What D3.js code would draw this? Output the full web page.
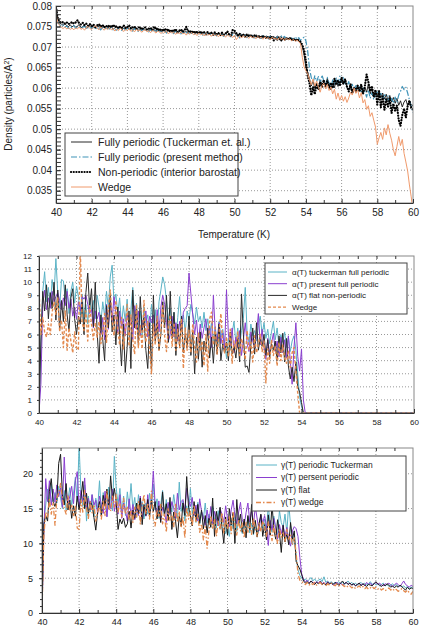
<!DOCTYPE html>
<html lang="en">
<head>
  <meta charset="UTF-8" />
  <title>Density, alpha and gamma vs temperature</title>
  <script src="https://d3js.org/d3.v7.min.js"></script>
  <style>
    body { margin: 0; background: #fff; font-family: "Liberation Sans", Arial, sans-serif; }
    svg { display: block; }
    .grid line { stroke: #999; stroke-dasharray: 1,2; }
    .axis path, .axis line { stroke: #333; }
    .axis text { fill: #222; }
  </style>
</head>
<body>
<svg width="423" height="631"></svg>
<script>
// Temperature grid: 40.0 ... 60.0 K in 0.1 K steps
const T0 = 40, DT = 0.1;

// ---- Panel 1: density (values in 1e-3 particles/A^2) ----
const densTuckerman = [
  79.5,76.8,75.9,75.6,75.3,75.7,75.2,75.0,75.4,74.9,
  75.3,74.8,75.1,75.5,74.7,75.0,75.2,74.6,74.9,75.3,
  74.8,75.2,74.5,74.9,75.1,74.6,74.8,75.0,74.4,74.9,
  74.6,75.0,74.3,74.7,74.9,74.4,74.8,74.2,74.6,74.5,
  74.9,74.3,74.6,74.1,74.7,74.4,74.0,74.5,74.2,74.6,
  74.1,74.4,73.9,74.5,74.0,74.3,73.8,74.4,74.1,73.7,
  74.2,73.9,73.6,74.3,73.8,74.0,73.5,74.1,73.7,73.9,
  73.4,74.0,73.6,73.8,73.3,73.9,73.5,73.7,73.2,73.8,
  73.4,73.6,73.1,73.7,73.3,73.5,73.0,73.6,73.2,73.4,
  72.9,73.5,73.1,73.3,72.8,73.4,73.0,73.2,72.7,73.3,
  73.6,72.9,73.2,72.6,73.1,72.8,73.0,72.5,73.1,72.7,
  72.9,72.4,73.0,72.6,72.8,72.3,72.9,72.5,72.7,72.2,
  72.8,72.4,72.6,72.1,72.7,72.3,72.5,72.0,72.4,72.2,
  71.9,72.3,71.8,72.1,71.6,71.9,71.4,71.0,70.2,68.0,
  65.0,63.8,62.3,60.5,61.8,59.9,61.2,60.0,62.0,60.6,
  61.5,60.2,62.4,60.8,59.6,61.3,60.1,62.0,60.4,61.6,
  62.3,60.9,61.8,60.2,59.5,60.8,59.2,60.3,58.9,60.6,
  59.4,60.7,58.8,60.2,59.0,61.0,58.6,59.8,57.9,59.3,
  58.1,59.5,57.6,58.8,57.3,58.5,56.9,58.2,56.6,57.7,
  56.3,57.5,55.8,56.9,55.4,56.6,57.2,55.7,56.8,55.3,
  56.0];
const densPresent = [
  79.0,76.2,75.5,75.0,75.4,74.8,75.1,74.6,75.0,74.7,
  75.2,74.6,74.9,75.0,74.5,74.8,75.1,74.4,74.7,74.9,
  74.5,74.9,74.3,74.8,74.6,74.2,74.7,74.9,74.3,74.6,
  74.4,74.8,74.2,74.5,74.1,74.6,74.3,74.0,74.5,74.2,
  74.6,74.1,74.4,73.9,74.5,74.2,73.8,74.3,74.0,74.4,
  73.9,74.2,73.7,74.3,73.8,74.1,73.6,74.2,73.9,73.5,
  74.0,73.7,73.4,74.1,73.6,73.8,73.3,73.9,73.5,73.7,
  73.2,73.8,73.4,73.6,73.1,73.7,73.3,73.5,73.0,73.6,
  73.2,73.4,72.9,73.5,73.1,73.3,72.8,73.4,73.0,73.2,
  72.7,73.3,72.9,73.1,72.6,73.2,72.8,73.0,72.5,73.1,
  72.8,72.4,73.0,72.2,72.9,72.6,72.8,72.3,72.9,72.5,
  72.7,72.2,72.8,72.4,72.6,72.1,72.7,72.3,72.5,72.0,
  72.6,72.2,72.4,71.9,72.5,72.1,72.8,72.3,72.6,72.0,
  72.4,71.8,72.2,71.7,72.5,71.9,72.3,71.6,72.1,72.4,
  71.5,69.0,64.8,62.6,61.3,63.0,61.6,62.8,61.0,63.2,
  61.8,60.5,62.6,61.2,60.1,62.0,60.7,62.5,61.0,62.9,
  61.4,62.8,61.0,60.3,61.6,59.8,60.9,59.4,60.6,59.1,
  60.3,58.8,60.0,59.2,57.8,59.6,57.5,58.9,57.2,58.3,
  59.3,57.9,59.0,57.4,58.6,56.8,58.1,55.9,57.5,56.3,
  57.8,56.5,58.3,59.2,60.4,59.6,60.2,58.8,57.1,55.6,
  54.0];
const densNonPeriodic = [
  79.8,77.0,76.2,75.9,76.1,75.7,76.0,75.6,75.8,76.1,
  75.7,76.0,76.5,75.8,75.5,75.9,75.3,75.7,75.2,75.6,
  75.1,75.5,74.9,75.3,75.6,75.0,75.4,74.8,75.2,74.9,
  75.3,74.8,75.4,74.9,75.1,74.6,75.0,74.7,75.2,74.6,
  74.9,75.3,74.5,74.8,75.0,74.4,74.7,74.9,74.3,74.6,
  74.8,74.2,74.5,74.7,74.1,75.0,74.3,74.6,74.0,74.4,
  73.9,74.5,74.0,74.3,73.7,74.2,73.8,74.4,73.6,74.0,
  74.3,73.7,74.1,74.9,73.8,74.0,73.5,73.9,73.4,73.8,
  73.3,73.8,73.4,73.6,73.1,73.7,73.2,73.5,73.0,73.6,
  73.1,73.4,72.9,73.5,73.0,73.3,73.8,73.1,72.8,74.2,
  74.0,73.4,72.8,73.2,72.6,73.0,72.5,73.1,72.7,72.9,
  72.4,72.9,72.5,72.8,72.2,72.7,72.3,72.6,72.1,72.5,
  72.0,72.6,71.6,72.2,71.8,72.4,71.5,72.1,71.7,72.2,
  71.8,72.3,71.7,72.0,71.5,71.9,71.6,71.3,70.5,69.2,
  66.5,63.0,61.2,58.2,60.3,58.5,61.0,59.6,61.5,60.2,
  62.0,60.4,61.8,59.9,61.3,60.0,62.3,60.8,61.9,60.5,
  62.6,61.0,62.2,60.4,59.2,61.0,58.7,60.1,59.3,60.6,
  59.1,60.9,58.6,60.4,63.3,61.5,59.2,60.5,57.8,59.6,
  56.0,59.2,55.3,58.0,54.7,57.3,55.5,57.6,53.9,56.2,
  54.5,55.8,52.2,50.8,53.5,55.0,52.8,55.6,57.0,55.2,
  54.8];
const densWedge = [
  78.0,76.0,75.3,74.8,74.5,74.9,74.4,74.7,74.3,74.6,
  74.2,74.7,74.4,74.9,74.3,74.6,74.1,74.8,75.0,74.5,
  74.3,74.8,75.2,74.6,74.2,74.9,74.5,74.1,74.6,74.3,
  74.7,74.2,74.5,73.9,74.4,74.0,74.6,74.2,73.8,74.3,
  74.0,74.5,73.8,74.2,73.7,74.3,73.9,74.1,73.6,74.0,
  74.2,73.7,74.0,73.5,74.1,73.8,73.4,73.9,73.6,73.3,
  73.8,73.5,73.9,73.2,73.7,73.4,73.6,73.1,73.5,73.3,
  73.7,73.2,73.4,72.9,73.5,73.1,73.6,73.0,73.3,72.8,
  73.4,73.0,73.2,72.7,73.3,72.9,73.1,72.6,73.2,72.8,
  73.0,72.5,73.1,72.7,72.9,72.4,73.0,72.6,72.8,72.3,
  72.9,71.8,72.4,72.7,72.2,72.8,72.3,72.6,72.1,72.7,
  72.3,72.5,72.0,72.6,72.2,72.4,71.9,72.5,72.1,72.3,
  71.8,72.4,72.0,72.2,71.7,72.3,71.9,72.1,71.6,72.2,
  71.8,72.0,71.5,71.9,71.4,71.7,71.3,70.8,67.5,65.2,
  64.2,63.5,62.0,60.8,62.2,60.5,61.7,60.2,59.0,60.6,
  61.2,59.8,60.9,59.4,60.3,58.6,59.7,57.3,58.8,57.0,
  58.2,56.8,57.9,56.5,57.6,59.0,58.3,60.0,58.7,59.6,
  57.6,58.9,56.4,57.2,54.8,55.7,53.1,54.0,52.2,50.5,
  46.3,47.9,49.2,47.5,50.3,48.6,51.1,49.0,47.3,45.0,
  43.5,45.8,48.2,46.0,47.5,44.1,42.0,39.8,36.4,33.5,
  30.0];
const densTicks = [0.035,0.04,0.045,0.05,0.055,0.06,0.065,0.07,0.075,0.08];
const densLabels = ["Fully periodic (Tuckerman et. al.)","Fully periodic (present method)","Non-periodic (interior barostat)","Wedge"];

// ---- Panel 2: alpha(T), 40.0 ... 54.2 K, zero afterwards ----
const alphaTuckerman = [
  0,5.2,9.3,10.8,8.5,9.6,8.1,10.2,9.0,11.8,
  9.2,8.0,10.2,10.1,8.7,9.5,7.6,9.3,10.0,8.4,
  9.7,8.9,7.5,9.1,7.0,8.3,6.8,8.8,7.9,8.6,
  7.2,9.0,8.1,6.9,8.5,7.4,9.3,8.0,10.4,11.3,
  8.4,9.1,7.6,8.8,6.7,8.2,7.0,8.7,6.5,7.9,
  9.6,7.2,8.4,6.3,7.8,5.9,8.1,6.9,7.5,6.1,
  8.3,6.6,7.9,6.0,8.5,9.4,10.4,9.8,8.6,7.1,
  8.0,6.4,7.7,5.8,7.3,8.9,6.7,7.5,6.2,7.8,
  7.1,8.3,7.6,6.8,8.1,7.0,7.4,6.5,7.7,6.3,
  7.2,6.0,6.9,5.5,6.6,5.2,7.0,5.8,6.4,5.4,
  4.2,5.7,4.8,6.1,7.0,5.3,6.5,5.0,6.3,7.2,
  9.6,6.1,5.4,6.8,5.9,6.3,5.5,6.7,7.4,6.0,
  6.9,5.7,6.4,5.3,6.2,7.0,5.6,6.5,5.1,6.0,
  5.4,6.2,5.0,5.8,4.7,5.5,5.9,4.8,3.0,1.2,
  0.5,0,0];
const alphaPresent = [
  0,2.2,8.3,9.4,7.9,8.8,8.0,9.3,8.5,8.9,
  9.2,8.6,7.9,8.8,8.2,9.3,8.0,8.7,7.4,8.1,
  7.2,8.5,7.8,8.9,8.7,9.0,8.3,7.6,7.9,6.5,
  7.8,7.2,7.7,6.0,7.3,5.6,8.3,6.4,8.7,7.0,
  8.9,7.5,6.1,7.8,6.5,7.2,5.9,7.6,6.8,7.3,
  5.6,8.2,6.4,7.8,5.9,7.1,6.6,7.8,5.8,7.4,
  6.9,7.5,5.7,7.9,6.2,8.1,9.0,8.3,6.9,5.5,
  6.0,7.4,5.8,6.9,5.5,7.0,6.3,7.7,8.0,8.2,
  10.7,9.1,7.5,6.0,7.1,5.4,6.8,5.7,6.5,7.2,
  5.9,6.6,5.0,9.0,6.2,5.5,6.9,5.3,6.1,4.8,
  9.4,6.0,5.1,6.5,4.6,5.8,5.0,6.3,4.4,5.6,
  6.9,5.3,4.7,6.2,5.5,4.9,6.0,7.6,5.2,6.4,
  5.0,4.1,5.7,4.5,5.3,6.1,4.7,5.5,4.3,5.8,
  4.6,5.6,4.2,5.9,4.0,2.2,5.0,6.9,4.3,3.2,
  4.9,1.0,0];
const alphaFlat = [
  0,5.5,9.3,7.8,9.8,7.2,9.2,8.0,10.0,7.1,
  9.4,6.3,8.6,7.0,9.8,7.5,6.3,8.8,9.5,7.2,
  6.0,7.4,6.8,8.5,6.0,9.2,10.7,8.0,9.5,6.6,
  10.0,6.2,3.8,7.5,5.6,4.0,8.2,6.5,9.0,6.2,
  7.5,5.2,8.1,6.0,3.6,6.8,3.1,5.0,7.8,3.4,
  9.4,6.5,8.0,5.2,8.9,6.3,7.3,4.8,3.4,6.9,
  3.1,9.0,5.5,7.1,4.8,6.0,8.5,6.5,9.0,5.4,
  9.3,5.7,7.7,4.4,6.8,5.1,7.4,4.6,6.1,5.0,
  7.4,4.4,6.3,3.0,5.8,4.1,6.2,3.5,5.5,4.7,
  6.5,4.2,5.8,3.8,6.1,4.5,6.8,4.0,5.3,4.6,
  5.4,4.0,6.2,4.5,5.1,4.2,5.7,3.9,9.1,6.0,
  3.5,3.6,3.1,5.2,6.5,4.5,6.9,4.8,5.8,5.1,
  6.0,4.4,5.6,4.2,5.3,4.8,5.5,4.0,5.9,4.6,
  6.1,3.9,5.7,3.6,2.6,3.5,2.4,3.9,2.0,1.6,
  0.8,0,0];
const alphaWedge = [
  9.5,6.0,7.3,6.2,5.8,6.8,6.0,7.7,8.5,7.5,
  8.8,6.3,7.1,5.0,7.8,4.8,6.5,5.5,4.6,6.2,
  5.0,4.8,12.5,7.0,6.3,7.8,5.5,8.2,6.8,5.6,
  6.9,5.8,7.0,5.3,6.1,7.6,5.4,8.0,9.4,7.1,
  5.9,8.6,6.4,5.2,7.3,4.9,6.2,8.3,5.1,7.5,
  5.6,4.5,8.3,5.0,6.7,4.9,8.6,5.4,7.0,4.8,
  3.0,6.8,5.2,7.4,4.8,6.3,8.2,5.9,4.7,6.6,
  7.5,5.1,6.9,4.8,6.4,5.0,7.2,3.4,6.5,4.8,
  6.3,4.6,6.8,5.0,3.9,6.1,4.7,5.5,3.6,6.0,
  3.2,7.2,7.7,5.2,6.5,4.5,6.1,7.6,5.3,4.6,
  5.8,4.3,6.4,3.8,5.5,4.9,6.2,4.4,5.7,5.0,
  4.1,6.3,4.8,5.4,3.9,5.9,4.6,5.2,6.0,4.7,
  5.5,2.3,4.9,3.8,5.6,4.4,5.1,3.6,5.4,4.0,
  5.2,4.2,3.8,4.8,3.5,4.6,5.0,3.2,1.5,0,
  0,0,0];
const alphaZeroEnd = 60;   // all alpha curves stay at 0 up to 60 K
const alphaLabels = ["\u03b1(T) tuckerman full periodic","\u03b1(T) present full periodic","\u03b1(T) flat non-periodic","Wedge"];

// ---- Panel 3: gamma(T) ----
const gammaTuckerman = [
  0,13.0,15.5,17.8,15.2,18.5,16.0,17.3,15.8,18.2,
  16.5,15.0,17.6,14.8,16.3,18.0,15.4,17.2,19.5,16.0,
  24.0,17.5,15.3,18.4,13.2,16.8,14.5,17.0,13.8,16.5,
  15.0,19.0,14.2,17.3,15.8,13.9,18.1,16.4,14.7,22.5,
  18.0,15.6,17.9,14.3,16.8,14.0,17.4,15.1,18.6,14.9,
  16.6,13.7,17.0,14.6,16.0,13.5,15.8,14.2,17.2,15.0,
  18.5,14.8,16.4,13.6,15.5,17.6,14.0,16.3,13.8,15.6,
  14.5,17.0,15.0,13.4,18.8,14.6,16.1,13.2,15.4,14.0,
  17.9,14.3,15.6,13.0,15.9,12.8,14.6,13.5,15.8,12.9,
  14.2,12.6,15.3,13.4,12.2,14.7,12.0,13.8,12.5,11.4,
  12.3,11.0,13.6,12.1,14.3,11.7,13.4,12.5,11.4,13.2,
  12.0,13.8,11.5,12.9,11.2,13.1,11.0,12.6,14.0,12.2,
  13.5,11.8,15.5,12.4,11.6,13.9,12.1,11.3,14.7,13.0,
  12.3,14.2,11.5,15.8,12.6,9.8,11.2,8.0,6.2,5.4,
  5.0,4.7,4.9,4.5,4.8,5.1,4.6,4.9,4.5,4.7,
  4.9,4.5,5.2,4.4,4.6,4.3,4.5,4.2,4.4,4.3,
  4.5,4.2,4.4,4.1,4.3,4.6,4.2,4.4,4.1,4.3,
  4.0,4.2,4.4,4.1,4.3,4.0,4.2,4.5,4.1,4.3,
  4.0,4.2,3.9,4.1,4.3,3.9,4.1,3.8,4.0,4.2,
  3.9,4.1,3.8,4.0,3.7,3.9,3.6,3.8,3.5,3.7,
  3.6];
const gammaPresent = [
  0,11.5,19.3,16.0,19.0,15.5,17.8,15.9,18.4,16.7,
  18.0,15.2,22.4,17.0,15.6,16.8,18.2,15.7,19.0,20.3,
  15.2,17.6,16.0,19.4,15.0,16.5,14.8,17.0,15.5,16.2,
  14.2,16.8,15.6,14.3,17.5,13.8,16.4,15.0,17.8,14.6,
  16.0,14.2,17.0,13.6,15.8,14.7,13.2,16.4,14.0,15.6,
  13.4,15.2,14.0,16.8,13.5,15.4,13.9,17.0,14.5,15.8,
  20.4,15.5,14.0,16.1,13.3,15.2,14.5,13.0,15.9,14.2,
  16.0,15.1,13.6,17.2,14.8,16.0,16.3,14.5,17.9,16.2,
  15.3,16.6,14.0,15.5,13.2,16.4,14.6,13.8,12.6,14.8,
  13.0,15.3,12.8,14.6,13.5,12.5,15.0,14.2,13.0,15.4,
  13.6,12.4,14.8,16.2,13.9,12.8,14.5,15.9,13.4,12.6,
  14.4,15.8,13.1,14.7,12.7,15.3,13.5,11.8,14.1,12.9,
  14.0,12.5,9.7,13.3,11.9,13.6,12.2,10.6,12.7,11.4,
  12.6,11.0,12.3,10.4,9.6,11.8,12.4,12.1,11.0,8.0,
  5.6,4.8,4.5,4.7,4.3,4.6,4.4,4.2,4.5,4.3,
  4.6,4.2,4.4,4.1,4.5,4.2,4.3,4.0,4.2,4.4,
  4.1,4.3,4.0,4.2,4.4,4.1,4.3,4.0,4.2,3.9,
  4.1,4.3,4.0,4.2,3.9,4.4,4.1,4.3,4.0,4.2,
  4.4,4.1,4.3,4.0,3.9,4.2,4.1,4.3,4.0,3.8,
  4.0,4.3,4.1,3.8,4.2,4.6,4.1,3.9,3.7,4.0,
  3.8];
const gammaFlat = [
  0,12.8,14.0,13.2,17.5,19.3,16.0,15.3,16.2,21.5,
  22.8,17.0,15.5,18.6,14.8,16.2,13.6,15.4,13.9,16.8,
  14.8,16.5,18.9,15.0,17.2,14.3,16.0,15.5,13.7,11.9,
  14.5,16.0,13.9,16.9,15.4,17.8,15.0,19.7,16.2,17.9,
  16.0,12.0,13.5,12.8,13.6,12.3,12.8,14.6,12.2,14.8,
  13.6,15.8,14.3,16.5,12.7,15.6,14.0,16.3,13.8,16.2,
  14.6,16.0,13.5,15.4,13.0,17.4,14.0,15.7,13.3,16.6,
  12.0,14.5,13.2,10.8,14.0,12.5,15.8,14.0,19.6,15.2,
  14.0,12.5,16.0,13.3,15.6,12.9,14.8,12.1,14.0,11.5,
  13.6,12.3,16.5,11.0,14.6,13.0,15.2,12.4,10.0,13.8,
  11.2,15.0,12.6,14.4,10.0,16.3,12.8,14.2,11.6,13.5,
  10.8,14.0,12.0,15.6,11.4,13.3,10.9,12.8,14.2,11.0,
  12.7,10.5,14.1,11.2,15.6,12.0,10.6,13.4,11.5,8.7,
  12.6,10.2,11.4,9.8,13.0,10.6,11.8,7.4,6.8,6.3,
  5.5,4.6,4.3,4.5,4.2,4.6,4.3,4.1,4.4,4.2,
  4.5,4.1,4.3,4.0,4.4,4.2,4.3,4.1,4.4,4.2,
  4.0,4.3,4.6,4.2,4.4,4.1,4.3,4.0,4.2,3.9,
  4.1,4.3,3.9,4.2,4.0,3.8,4.1,4.0,3.9,4.2,
  4.5,4.2,4.0,3.8,4.1,3.9,4.2,4.0,3.7,3.9,
  3.6,3.9,3.7,4.0,3.8,3.5,3.3,3.7,3.4,3.6,
  3.5];
const gammaWedge = [
  0,11.0,14.5,13.8,16.3,14.2,15.8,12.6,16.5,17.2,
  18.6,16.5,15.0,14.2,16.8,14.6,15.5,14.0,15.3,12.2,
  12.0,16.2,14.5,17.6,15.0,13.6,16.0,14.4,15.6,13.2,
  14.6,15.5,13.5,16.2,14.0,17.5,15.0,14.6,16.8,15.2,
  17.0,14.5,15.8,13.8,16.5,14.2,15.2,13.3,14.8,13.0,
  15.2,13.8,16.0,12.8,15.5,17.0,14.2,15.8,13.5,17.5,
  13.6,12.5,14.8,13.9,15.6,12.8,14.2,11.6,15.0,13.3,
  14.1,12.4,15.6,13.0,14.6,12.2,13.8,10.8,15.2,13.5,
  14.6,12.5,15.5,13.0,14.2,11.6,12.8,10.5,12.4,9.3,
  11.8,14.0,12.2,13.5,11.0,13.2,12.0,14.4,11.5,13.6,
  12.0,13.8,11.4,14.6,12.6,11.2,13.4,11.8,12.9,10.8,
  13.0,11.6,12.8,11.3,13.6,12.2,11.0,12.9,11.7,13.2,
  12.4,11.0,13.1,11.8,10.4,12.6,11.2,10.0,12.1,10.9,
  11.5,10.2,12.0,10.6,11.3,9.8,10.8,8.6,5.6,4.7,
  4.5,4.3,4.1,4.4,4.0,4.3,4.1,4.4,4.0,4.2,
  4.4,4.1,4.3,3.9,4.2,4.0,4.3,4.1,3.9,4.2,
  4.0,3.9,4.1,3.8,4.0,3.7,3.9,3.6,3.8,3.5,
  3.7,3.9,3.6,3.8,3.5,3.7,3.4,3.6,3.8,3.5,
  3.7,3.4,3.6,3.3,3.5,3.2,3.4,3.6,3.3,3.5,
  3.2,3.4,3.1,3.3,3.5,3.2,3.0,3.3,2.9,2.7,
  3.1];
const gammaLabels = ["\u03b3(T) periodic Tuckerman","\u03b3(T) persent periodic","\u03b3(T) flat","\u03b3(T) wedge"];

const tempTicks = [40,42,44,46,48,50,52,54,56,58,60];

// turn a value array into points on the 0.1 K grid
const toPoints = (vals, scale = 1) => vals.map((v, i) => ({ t: T0 + i * DT, v: v * scale }));

const svg = d3.select("svg");

function panel(cfg) {
  const x = d3.scaleLinear().domain([40, 60]).range([cfg.left, cfg.right]);
  const y = d3.scaleLinear().domain(cfg.ydomain).range([cfg.bottom, cfg.top]);
  const g = svg.append("g");
  const clipId = "clip" + cfg.id;

  g.append("clipPath").attr("id", clipId)
    .append("rect")
    .attr("x", cfg.left).attr("y", cfg.top)
    .attr("width", cfg.right - cfg.left).attr("height", cfg.bottom - cfg.top);

  // dotted grid
  const grid = g.append("g").attr("class", "grid");
  grid.selectAll(".gx").data(tempTicks.slice(1, -1)).enter().append("line")
    .attr("x1", d => x(d)).attr("x2", d => x(d))
    .attr("y1", cfg.top).attr("y2", cfg.bottom);
  grid.selectAll(".gy").data(cfg.yticks.filter(d => y(d) > cfg.top + 1 && y(d) < cfg.bottom - 1)).enter().append("line")
    .attr("x1", cfg.left).attr("x2", cfg.right)
    .attr("y1", d => y(d)).attr("y2", d => y(d));

  // curves
  const line = d3.line().x(d => x(d.t)).y(d => y(d.v));
  const curves = g.append("g").attr("clip-path", `url(#${clipId})`);
  cfg.series.forEach(s => {
    curves.append("path")
      .datum(s.points)
      .attr("fill", "none")
      .attr("stroke", s.color)
      .attr("stroke-width", s.width || 0.9)
      .attr("stroke-dasharray", s.dash || null)
      .attr("stroke-linecap", s.cap || "butt")
      .attr("stroke-linejoin", "round")
      .attr("d", line);
  });

  // frame
  g.append("rect")
    .attr("x", cfg.left).attr("y", cfg.top)
    .attr("width", cfg.right - cfg.left).attr("height", cfg.bottom - cfg.top)
    .attr("fill", "none").attr("stroke", "#888").attr("stroke-width", 1);

  // axes
  const ax = g.append("g").attr("class", "axis")
    .attr("transform", `translate(0,${cfg.bottom})`)
    .call(d3.axisBottom(x).tickValues(tempTicks).tickSizeInner(-4).tickSizeOuter(0).tickPadding(cfg.xpad))
    .style("font-size", cfg.font + "px");
  ax.selectAll("text").attr("font-family", "Liberation Sans, Arial, sans-serif");
  g.append("g").attr("class", "axis")
    .attr("transform", `translate(0,${cfg.bottom})`)
    .call(d3.axisBottom(x).tickValues(d3.range(41, 60, 2)).tickSizeInner(-3).tickSizeOuter(0).tickFormat(""))
    .select(".domain").remove();
  // top minor ticks
  g.append("g").attr("class", "axis")
    .attr("transform", `translate(0,${cfg.top})`)
    .call(d3.axisTop(x).tickValues(d3.range(41, 60, 1)).tickSizeInner(-3).tickSizeOuter(0).tickFormat(""))
    .select(".domain").remove();

  const ay = g.append("g").attr("class", "axis")
    .attr("transform", `translate(${cfg.left},0)`)
    .call(d3.axisLeft(y).tickValues(cfg.yticks).tickSizeInner(cfg.ytick).tickSizeOuter(0)
      .tickPadding(cfg.ypad).tickFormat(cfg.yfmt))
    .style("font-size", cfg.font + "px");
  ay.selectAll("text").attr("font-family", "Liberation Sans, Arial, sans-serif");
  g.append("g").attr("class", "axis")
    .attr("transform", `translate(${cfg.left},0)`)
    .call(d3.axisLeft(y).tickValues(cfg.yminor).tickSizeInner(cfg.ytick - 1).tickSizeOuter(0).tickFormat(""))
    .select(".domain").remove();

  // legend
  const L = cfg.legend;
  const lg = g.append("g");
  lg.append("rect")
    .attr("x", L.x).attr("y", L.y).attr("width", L.w).attr("height", L.h)
    .attr("fill", "#fff").attr("stroke", "#444").attr("stroke-width", 1);
  cfg.series.forEach((s, i) => {
    const yy = L.y + L.first + i * L.step;
    lg.append("line")
      .attr("x1", L.x + L.l0).attr("x2", L.x + L.l1)
      .attr("y1", yy).attr("y2", yy)
      .attr("stroke", s.color).attr("stroke-width", s.width || 0.9)
      .attr("stroke-dasharray", s.dash || null)
      .attr("stroke-linecap", s.cap || "butt");
    lg.append("text")
      .attr("x", L.x + L.tx).attr("y", yy)
      .attr("dy", "0.35em")
      .attr("font-size", L.font + "px")
      .attr("fill", "#222")
      .text(s.label);
  });
  return { x, y };
}

// Panel 1
panel({
  id: 1, left: 56, right: 413, top: 6, bottom: 203,
  ydomain: [0.032, 0.08], yticks: densTicks, yminor: d3.range(0.033, 0.0805, 0.001),
  yfmt: d => String(+d.toFixed(3)), ytick: -4, ypad: 4, xpad: 6, font: 10,
  series: [
    { points: toPoints(densTuckerman, 1e-3), color: "#111", width: 0.9, label: densLabels[0] },
    { points: toPoints(densPresent, 1e-3), color: "#3f93b8", width: 1.2, dash: "6,2,1.5,2", label: densLabels[1] },
    { points: toPoints(densNonPeriodic, 1e-3), color: "#000", width: 2.2, dash: "0.1,2.6", cap: "round", label: densLabels[2] },
    { points: toPoints(densWedge, 1e-3), color: "#f09a6c", width: 1, label: densLabels[3] }
  ],
  legend: { x: 65, y: 133, w: 173, h: 63, first: 9, step: 15, l0: 6, l1: 27, tx: 33, font: 10.5 }
});

// Panel 2
const zeroTail = [{ t: 54.2, v: 0 }, { t: alphaZeroEnd, v: 0 }];
panel({
  id: 2, left: 39, right: 414, top: 256, bottom: 413,
  ydomain: [0, 12], yticks: d3.range(0, 13, 1), yminor: [],
  yfmt: d3.format("d"), ytick: 2, ypad: 5, xpad: 6, font: 8,
  series: [
    { points: toPoints(alphaTuckerman).concat(zeroTail), color: "#5ab3c6", width: 1, label: alphaLabels[0] },
    { points: toPoints(alphaPresent).concat(zeroTail), color: "#8a3fcf", width: 1, label: alphaLabels[1] },
    { points: toPoints(alphaFlat).concat(zeroTail), color: "#2a2a2a", width: 1, label: alphaLabels[2] },
    { points: toPoints(alphaWedge).concat(zeroTail), color: "#e3894e", width: 1.4, dash: "3,2", label: alphaLabels[3] }
  ],
  legend: { x: 265, y: 263, w: 142, h: 51, first: 9, step: 11.7, l0: 3, l1: 22, tx: 27, font: 8 }
});

// Panel 3
panel({
  id: 3, left: 42, right: 413, top: 448, bottom: 613,
  ydomain: [0, 23.7], yticks: [0, 5, 10, 15, 20], yminor: d3.range(1, 24, 1),
  yfmt: d3.format("d"), ytick: 3, ypad: 6, xpad: 6, font: 9,
  series: [
    { points: toPoints(gammaTuckerman), color: "#5ab3c6", width: 1, label: gammaLabels[0] },
    { points: toPoints(gammaPresent), color: "#8a3fcf", width: 1, label: gammaLabels[1] },
    { points: toPoints(gammaFlat), color: "#1a1a1a", width: 1, label: gammaLabels[2] },
    { points: toPoints(gammaWedge), color: "#e3894e", width: 1.3, dash: "5,2,1.5,2", label: gammaLabels[3] }
  ],
  legend: { x: 252, y: 456, w: 154, h: 55, first: 9, step: 12.5, l0: 4, l1: 25, tx: 29, font: 8.5 }
});

// Axis titles for panel 1
svg.append("text")
  .attr("x", 234).attr("y", 238)
  .attr("text-anchor", "middle")
  .attr("font-size", "10px").attr("fill", "#222")
  .text("Temperature (K)");
const yl = svg.append("text")
  .attr("transform", "translate(12,104) rotate(-90)")
  .attr("text-anchor", "middle")
  .attr("font-size", "10px").attr("fill", "#222");
yl.append("tspan").text("Density (particles/A");
yl.append("tspan").attr("baseline-shift", "super").attr("font-size", "7px").text("2");
yl.append("tspan").text(")");
</script>
</body>
</html>
